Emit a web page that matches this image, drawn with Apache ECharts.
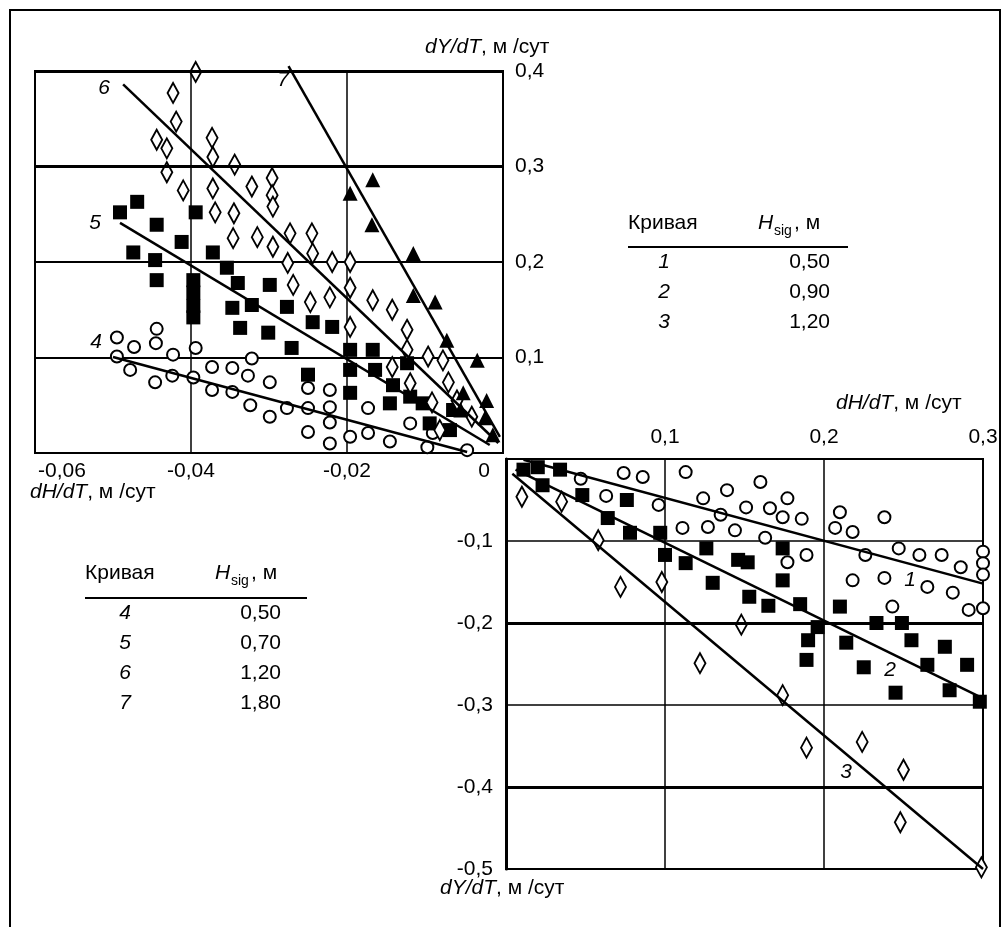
<!DOCTYPE html>
<html><head><meta charset="utf-8">
<script src="https://cdn.jsdelivr.net/npm/echarts@6/dist/echarts.min.js"></script>
<style>html,body{margin:0;padding:0;background:#fff}#c{width:1003px;height:927px}</style>
</head><body><div id="c"></div>
<script>
// ---------- tick labels ----------
const leftXTicks = [-0.06, -0.04, -0.02, 0];
const leftXLabels = ['-0,06', '-0,04', '-0,02', '0'];
const leftYTicks = [0.1, 0.2, 0.3, 0.4];
const leftYLabels = ['0,1', '0,2', '0,3', '0,4'];
const rightXTicks = [0.1, 0.2, 0.3];
const rightXLabels = ['0,1', '0,2', '0,3'];
const rightYTicks = [-0.1, -0.2, -0.3, -0.4, -0.5];
const rightYLabels = ['-0,1', '-0,2', '-0,3', '-0,4', '-0,5'];
const boldLeftY = [0.3, 0.4];
const boldRightY = [-0.2, -0.4];

// ---------- left panel (dH/dT < 0) ----------
const curve4 = [[-0.0495,0.121],[-0.0473,0.111],[-0.0444,0.130],[-0.0445,0.115],[-0.0495,0.101],[-0.0478,0.087],[-0.0446,0.074],[-0.0423,0.103],[-0.0424,0.081],[-0.0394,0.110],[-0.0397,0.079],[-0.0373,0.090],[-0.0373,0.066],[-0.0347,0.089],[-0.0347,0.064],[-0.0327,0.081],[-0.0322,0.099],[-0.0324,0.050],[-0.0299,0.074],[-0.0299,0.038],[-0.0277,0.047],[-0.0250,0.068],[-0.0250,0.047],[-0.0222,0.066],[-0.0222,0.048],[-0.0222,0.032],[-0.0250,0.022],[-0.0222,0.010],[-0.0196,0.017],[-0.0173,0.047],[-0.0173,0.021],[-0.0145,0.012],[-0.0119,0.031],[-0.0090,0.021],[-0.0097,0.006],[-0.0046,0.003]];
const curve5 = [[-0.0491,0.252],[-0.0469,0.263],[-0.0444,0.239],[-0.0412,0.221],[-0.0394,0.252],[-0.0474,0.210],[-0.0446,0.202],[-0.0444,0.181],[-0.0397,0.181],[-0.0397,0.168],[-0.0397,0.154],[-0.0397,0.142],[-0.0372,0.210],[-0.0354,0.194],[-0.0340,0.178],[-0.0347,0.152],[-0.0322,0.155],[-0.0337,0.131],[-0.0299,0.176],[-0.0301,0.126],[-0.0277,0.153],[-0.0271,0.110],[-0.0244,0.137],[-0.0219,0.132],[-0.0250,0.082],[-0.0196,0.108],[-0.0196,0.087],[-0.0196,0.063],[-0.0167,0.108],[-0.0164,0.087],[-0.0141,0.071],[-0.0145,0.052],[-0.0119,0.059],[-0.0103,0.052],[-0.0094,0.031],[-0.0068,0.024],[-0.0064,0.045],[-0.0123,0.094]];
const curve6 = [[-0.0394,0.399],[-0.0423,0.377],[-0.0419,0.347],[-0.0444,0.328],[-0.0431,0.319],[-0.0431,0.294],[-0.0373,0.330],[-0.0372,0.310],[-0.0344,0.302],[-0.0410,0.275],[-0.0372,0.277],[-0.0322,0.279],[-0.0296,0.288],[-0.0296,0.270],[-0.0295,0.258],[-0.0369,0.252],[-0.0345,0.251],[-0.0346,0.225],[-0.0315,0.226],[-0.0295,0.216],[-0.0273,0.230],[-0.0245,0.230],[-0.0244,0.209],[-0.0276,0.199],[-0.0219,0.200],[-0.0196,0.200],[-0.0269,0.176],[-0.0247,0.158],[-0.0222,0.163],[-0.0196,0.173],[-0.0167,0.160],[-0.0142,0.150],[-0.0196,0.132],[-0.0123,0.129],[-0.0123,0.108],[-0.0096,0.101],[-0.0077,0.097],[-0.0142,0.090],[-0.0070,0.074],[-0.0119,0.073],[-0.0091,0.053],[-0.0059,0.055],[-0.0081,0.024],[-0.0040,0.038]];
const curve7 = [[-0.0167,0.286],[-0.0196,0.272],[-0.0168,0.239],[-0.0115,0.209],[-0.0115,0.165],[-0.0087,0.158],[-0.0072,0.118],[-0.0033,0.097],[-0.0051,0.063],[-0.0021,0.055],[-0.0023,0.037],[-0.0013,0.019],[-0.0054,0.045]];
const fit4 = [[-0.0500,0.1005],[-0.0046,0.001]];
const fit5 = [[-0.0491,0.241],[-0.0017,0.0084]];
const fit6 = [[-0.0487,0.386],[-0.0006,0.0105]];
const fit7 = [[-0.0275,0.405],[-0.0004,0.017]];

// ---------- right panel (dH/dT > 0) ----------
const curve1 = [[0.047,-0.024],[0.063,-0.045],[0.074,-0.017],[0.086,-0.022],[0.096,-0.056],[0.113,-0.016],[0.111,-0.084],[0.124,-0.048],[0.127,-0.083],[0.135,-0.068],[0.139,-0.038],[0.144,-0.087],[0.160,-0.028],[0.151,-0.059],[0.166,-0.060],[0.177,-0.048],[0.174,-0.071],[0.186,-0.073],[0.163,-0.096],[0.189,-0.117],[0.177,-0.126],[0.210,-0.065],[0.207,-0.084],[0.218,-0.089],[0.238,-0.071],[0.226,-0.117],[0.247,-0.109],[0.260,-0.117],[0.274,-0.117],[0.286,-0.132],[0.300,-0.113],[0.300,-0.127],[0.300,-0.141],[0.218,-0.148],[0.238,-0.145],[0.265,-0.156],[0.281,-0.163],[0.291,-0.184],[0.300,-0.182],[0.243,-0.180]];
const curve2 = [[0.011,-0.013],[0.020,-0.010],[0.034,-0.013],[0.023,-0.032],[0.048,-0.044],[0.064,-0.072],[0.076,-0.050],[0.078,-0.090],[0.097,-0.090],[0.100,-0.117],[0.113,-0.127],[0.126,-0.109],[0.130,-0.151],[0.146,-0.123],[0.152,-0.126],[0.174,-0.109],[0.174,-0.148],[0.153,-0.168],[0.165,-0.179],[0.185,-0.177],[0.196,-0.205],[0.190,-0.221],[0.189,-0.245],[0.210,-0.180],[0.214,-0.224],[0.225,-0.254],[0.233,-0.200],[0.249,-0.200],[0.255,-0.221],[0.265,-0.251],[0.276,-0.229],[0.290,-0.251],[0.279,-0.282],[0.245,-0.285],[0.298,-0.296]];
const curve3 = [[0.010,-0.046],[0.035,-0.052],[0.058,-0.099],[0.072,-0.156],[0.098,-0.150],[0.122,-0.249],[0.148,-0.202],[0.174,-0.288],[0.189,-0.352],[0.224,-0.345],[0.250,-0.379],[0.248,-0.443],[0.299,-0.498]];
const fit1 = [[0.011,-0.001],[0.300,-0.152]];
const fit2 = [[0.006,-0.013],[0.300,-0.292]];
const fit3 = [[0.004,-0.018],[0.300,-0.500]];

// ---------- tables ----------
const tableTopCurves = ['1', '2', '3'];
const tableTopH = ['0,50', '0,90', '1,20'];
const tableBottomCurves = ['4', '5', '6', '7'];
const tableBottomH = ['0,50', '0,70', '1,20', '1,80'];

const FONT = 'Liberation Sans, Arial, sans-serif';
const FS = 21;

function lookup(ticks, labels) {
  return function (v) {
    for (let i = 0; i < ticks.length; i++) if (Math.abs(ticks[i] - v) < 1e-9) return labels[i];
    return '';
  };
}
const gridLine = w => ({ show: true, lineStyle: { color: '#000', width: w } });

const symCircle = { symbol: 'circle', symbolSize: 12, itemStyle: { color: '#fff', borderColor: '#000', borderWidth: 2, opacity: 1 } };
const symSquare = { symbol: 'rect', symbolSize: 14, itemStyle: { color: '#000', opacity: 1 } };
const symTri = { symbol: 'triangle', symbolSize: [15, 15], itemStyle: { color: '#000', opacity: 1 } };
const symDiam = { symbol: 'diamond', symbolSize: [11, 20], itemStyle: { color: '#fff', borderColor: '#000', borderWidth: 2, opacity: 1 } };

function scatter(data, sym, gi) {
  return Object.assign({ type: 'scatter', data: data, xAxisIndex: gi, yAxisIndex: gi, clip: false, z: 3 }, sym);
}
function fit(data, gi) {
  return { type: 'line', data: data, xAxisIndex: gi, yAxisIndex: gi, symbol: 'none', clip: false, z: 5,
    lineStyle: { color: '#000', width: 2.5, opacity: 1 } };
}
function boldGrid(vals, gi) {
  return { type: 'line', data: [], xAxisIndex: gi, yAxisIndex: gi, z: 2,
    markLine: { silent: true, symbol: 'none', label: { show: false }, animation: false,
      lineStyle: { color: '#000', width: 3, type: 'solid', opacity: 1 }, data: vals.map(v => ({ yAxis: v })) } };
}

const leftXFmt = lookup(leftXTicks, leftXLabels);

const chart = echarts.init(document.getElementById('c'), null, { renderer: 'canvas' });
chart.setOption({
  backgroundColor: '#fff',
  animation: false,
  textStyle: { fontFamily: FONT, color: '#000' },
  grid: [
    { left: 35, top: 71, width: 468, height: 382, show: true, borderColor: '#000', borderWidth: 2, backgroundColor: 'transparent' },
    { left: 506, top: 459, width: 477, height: 410, show: true, borderColor: '#000', borderWidth: 2, backgroundColor: 'transparent' }
  ],
  xAxis: [
    { gridIndex: 0, type: 'value', min: -0.06, max: 0, interval: 0.02, position: 'bottom',
      axisLine: { onZero: false, lineStyle: { color: '#000', width: 2 } }, axisTick: { show: false },
      splitLine: gridLine(1.5),
      axisLabel: { color: '#000', fontSize: FS, fontFamily: FONT, margin: 8,
        formatter: function (v) {
          const s = leftXFmt(v);
          if (Math.abs(v + 0.06) < 1e-9) return '{l|' + s + '}';
          if (Math.abs(v) < 1e-9) return '{r|' + s + '}';
          return s;
        },
        rich: { l: { fontSize: FS, padding: [0, 0, 0, 54] }, r: { fontSize: FS, padding: [0, 38, 0, 0] } } } },
    { gridIndex: 1, type: 'value', min: 0, max: 0.3, interval: 0.1, position: 'top',
      axisLine: { onZero: false, lineStyle: { color: '#000', width: 2 } }, axisTick: { show: false },
      splitLine: gridLine(1.5),
      axisLabel: { color: '#000', fontSize: FS, fontFamily: FONT, margin: 11, formatter: lookup(rightXTicks, rightXLabels) } }
  ],
  yAxis: [
    { gridIndex: 0, type: 'value', min: 0, max: 0.4, interval: 0.1, position: 'right',
      axisLine: { onZero: false, lineStyle: { color: '#000', width: 2 } }, axisTick: { show: false },
      splitLine: gridLine(2),
      axisLabel: { color: '#000', fontSize: FS, fontFamily: FONT, margin: 12, formatter: lookup(leftYTicks, leftYLabels) } },
    { gridIndex: 1, type: 'value', min: -0.5, max: 0, interval: 0.1, position: 'left',
      axisLine: { onZero: false, lineStyle: { color: '#000', width: 3 } }, axisTick: { show: false },
      splitLine: gridLine(1.5),
      axisLabel: { color: '#000', fontSize: FS, fontFamily: FONT, margin: 13, formatter: lookup(rightYTicks, rightYLabels) } }
  ],
  series: [
    boldGrid(boldLeftY, 0), boldGrid(boldRightY, 1),
    scatter(curve4, symCircle, 0), scatter(curve5, symSquare, 0), scatter(curve6, symDiam, 0), scatter(curve7, symTri, 0),
    fit(fit4, 0), fit(fit5, 0), fit(fit6, 0), fit(fit7, 0),
    scatter(curve1, symCircle, 1), scatter(curve2, symSquare, 1), scatter(curve3, symDiam, 1),
    fit(fit1, 1), fit(fit2, 1), fit(fit3, 1)
  ],
  graphic: buildGraphics()
});

function txt(x, y, text, opt) {
  return { type: 'text', x: x, y: y, z: 20, style: Object.assign({ text: text, fontFamily: FONT, fontSize: FS, fill: '#000', textAlign: 'left', textVerticalAlign: 'middle' }, opt || {}) };
}
function axisTitle(x, y, axisVar) {
  return { type: 'text', x: x, y: y, z: 20, style: { text: '{i|' + axisVar + '}{n|, м /сут}', textVerticalAlign: 'middle',
    rich: { i: { fontFamily: FONT, fontSize: FS, fontStyle: 'italic' }, n: { fontFamily: FONT, fontSize: FS } } } };
}
function hsig(x, y) {
  return [
    txt(x, y, 'H', { fontStyle: 'italic' }),
    txt(x + 16, y + 8, 'sig', { fontSize: 14 }),
    txt(x + 36, y, ', м')
  ];
}
function buildGraphics() {
  const g = [];
  g.push({ type: 'rect', z: 0, shape: { x: 10, y: 10, width: 990, height: 940 }, style: { fill: 'none', stroke: '#000', lineWidth: 2 } });
  g.push(axisTitle(425, 47, 'dY/dT'));
  g.push(axisTitle(836, 403, 'dH/dT'));
  g.push(axisTitle(30, 492, 'dH/dT'));
  g.push(axisTitle(440, 888, 'dY/dT'));
  // curve numbers
  const it = { fontStyle: 'italic', textAlign: 'center' };
  g.push(txt(104, 88, '6', it), txt(283, 80, '7', it), txt(95, 223, '5', it), txt(96, 342, '4', it));
  g.push(txt(910, 580, '1', it), txt(890, 670, '2', it), txt(846, 772, '3', it));
  // table top-right
  g.push(txt(628, 223, 'Кривая'));
  g.push.apply(g, hsig(758, 223));
  g.push({ type: 'line', z: 20, shape: { x1: 628, y1: 247, x2: 848, y2: 247 }, style: { stroke: '#000', lineWidth: 2 } });
  tableTopCurves.forEach((c, i) => {
    g.push(txt(664, 262 + i * 30, c, { fontStyle: 'italic', textAlign: 'center' }));
    g.push(txt(830, 262 + i * 30, tableTopH[i], { textAlign: 'right' }));
  });
  // table bottom-left
  g.push(txt(85, 573, 'Кривая'));
  g.push.apply(g, hsig(215, 573));
  g.push({ type: 'line', z: 20, shape: { x1: 85, y1: 598, x2: 307, y2: 598 }, style: { stroke: '#000', lineWidth: 2 } });
  tableBottomCurves.forEach((c, i) => {
    g.push(txt(125, 613 + i * 30, c, { fontStyle: 'italic', textAlign: 'center' }));
    g.push(txt(281, 613 + i * 30, tableBottomH[i], { textAlign: 'right' }));
  });
  return g;
}
</script>
</body></html>
